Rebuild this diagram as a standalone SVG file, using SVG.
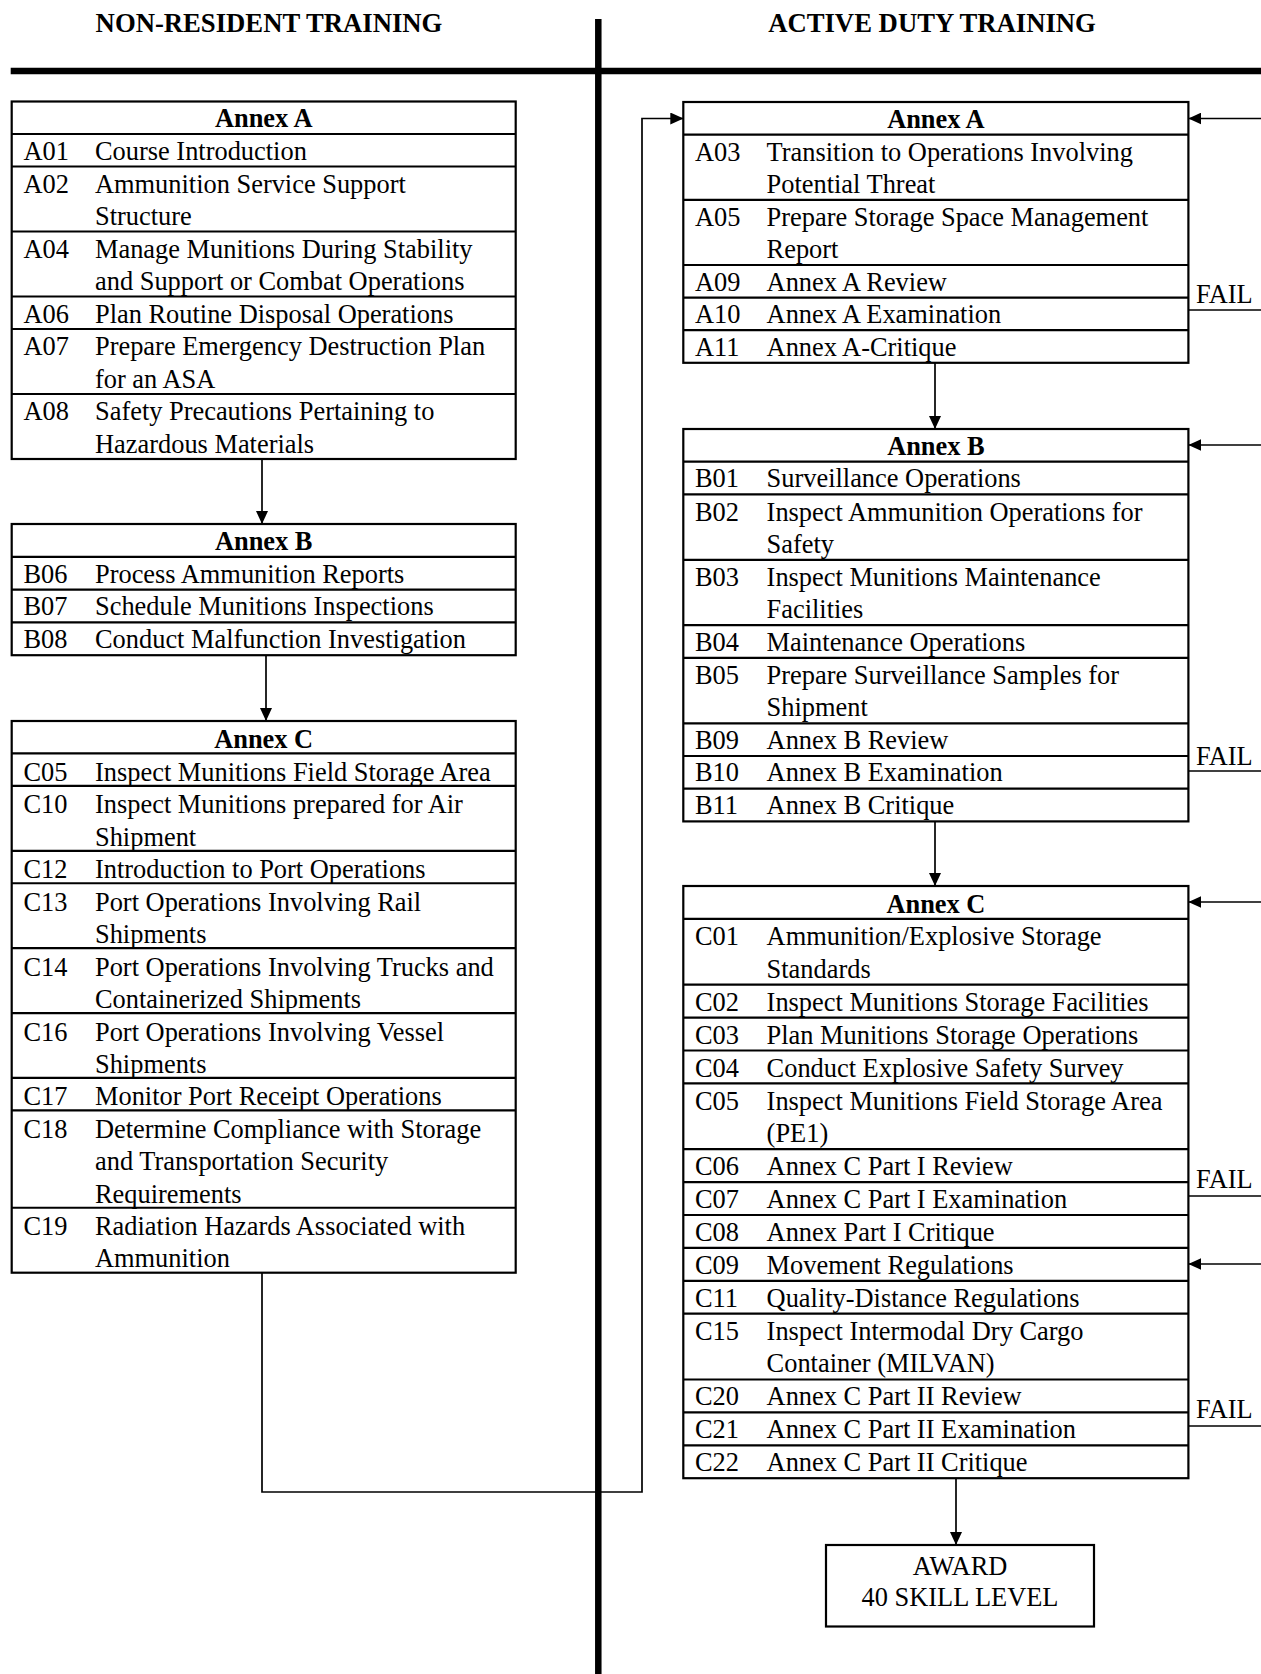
<svg xmlns="http://www.w3.org/2000/svg" width="1261" height="1674" viewBox="0 0 1261 1674">
<defs>
<style>
text{font-family:"Liberation Serif","Times New Roman",serif;font-size:26.4px;fill:#000}
.t{font-weight:bold;font-size:26.7px}
.h{font-weight:bold;text-anchor:middle}
.c{text-anchor:middle}
.box{fill:#fff;stroke:#000;stroke-width:2.2}
.sep{stroke:#000;stroke-width:2.2}
.con{fill:none;stroke:#000;stroke-width:1.7}
.arr{fill:none;stroke:#000;stroke-width:1.7;marker-end:url(#ah)}
.div{stroke:#000;stroke-width:6.5}
</style>
<marker id="ah" markerUnits="userSpaceOnUse" markerWidth="13" markerHeight="12" refX="13" refY="6" orient="auto">
<path d="M0,0 L13,6 L0,12 z" fill="#000"/>
</marker>
</defs>
<rect width="1261" height="1674" fill="#fff"/>

<g id="titles">
<text class="t" x="269" y="32" text-anchor="middle">NON-RESIDENT TRAINING</text>
<text class="t" x="932" y="32" text-anchor="middle">ACTIVE DUTY TRAINING</text>
</g>
<g id="dividers">
<line class="div" x1="10.7" y1="71" x2="1261" y2="71"/>
<line class="div" x1="598.3" y1="19" x2="598.3" y2="1674"/>
</g>

<g id="connectors">
<line class="arr" x1="262" y1="459" x2="262" y2="524"/>
<line class="arr" x1="266" y1="655.2" x2="266" y2="721"/>
<path class="arr" d="M262,1272.7 V1492 H642 V118.5 H683.3"/>
<line class="arr" x1="935" y1="362.8" x2="935" y2="429"/>
<line class="arr" x1="935" y1="821.4" x2="935" y2="886"/>
<line class="arr" x1="956" y1="1478.2" x2="956" y2="1545"/>
<line class="arr" x1="1261" y1="118.5" x2="1188.4" y2="118.5"/>
<line class="arr" x1="1261" y1="445" x2="1188.4" y2="445"/>
<line class="arr" x1="1261" y1="902" x2="1188.4" y2="902"/>
<line class="arr" x1="1261" y1="1264" x2="1188.4" y2="1264"/>
<line class="con" x1="1188.4" y1="310" x2="1261" y2="310"/>
<line class="con" x1="1188.4" y1="771" x2="1261" y2="771"/>
<line class="con" x1="1188.4" y1="1196" x2="1261" y2="1196"/>
<line class="con" x1="1188.4" y1="1426" x2="1261" y2="1426"/>
<text x="1196" y="303">FAIL</text>
<text x="1196" y="765">FAIL</text>
<text x="1196" y="1188">FAIL</text>
<text x="1196" y="1418">FAIL</text>
</g>

<g id="nr-annex-a">
<rect class="box" x="11.7" y="101.5" width="504" height="357.5"/>
<line class="sep" x1="11.7" y1="134" x2="515.7" y2="134"/>
<line class="sep" x1="11.7" y1="166.5" x2="515.7" y2="166.5"/>
<line class="sep" x1="11.7" y1="231.5" x2="515.7" y2="231.5"/>
<line class="sep" x1="11.7" y1="296.5" x2="515.7" y2="296.5"/>
<line class="sep" x1="11.7" y1="329" x2="515.7" y2="329"/>
<line class="sep" x1="11.7" y1="394" x2="515.7" y2="394"/>
<text class="h" x="263.7" y="126.5">Annex A</text>
<text x="23.5" y="159.5">A01</text><text x="95" y="159.5">Course Introduction</text>
<text x="23.5" y="192.5">A02</text><text x="95" y="192.5">Ammunition Service Support</text><text x="95" y="225">Structure</text>
<text x="23.5" y="257.5">A04</text><text x="95" y="257.5">Manage Munitions During Stability</text><text x="95" y="290">and Support or Combat Operations</text>
<text x="23.5" y="322.5">A06</text><text x="95" y="322.5">Plan Routine Disposal Operations</text>
<text x="23.5" y="355">A07</text><text x="95" y="355">Prepare Emergency Destruction Plan</text><text x="95" y="387.5">for an ASA</text>
<text x="23.5" y="420">A08</text><text x="95" y="420">Safety Precautions Pertaining to</text><text x="95" y="452.5">Hazardous Materials</text>
</g>

<g id="nr-annex-b">
<rect class="box" x="11.7" y="524" width="504" height="131.2"/>
<line class="sep" x1="11.7" y1="556.8" x2="515.7" y2="556.8"/>
<line class="sep" x1="11.7" y1="589.6" x2="515.7" y2="589.6"/>
<line class="sep" x1="11.7" y1="622.4" x2="515.7" y2="622.4"/>
<text class="h" x="263.7" y="549.5">Annex B</text>
<text x="23.5" y="582.5">B06</text><text x="95" y="582.5">Process Ammunition Reports</text>
<text x="23.5" y="615.3">B07</text><text x="95" y="615.3">Schedule Munitions Inspections</text>
<text x="23.5" y="648">B08</text><text x="95" y="648">Conduct Malfunction Investigation</text>
</g>

<g id="nr-annex-c">
<rect class="box" x="11.7" y="721" width="504" height="551.7"/>
<line class="sep" x1="11.7" y1="753.45" x2="515.7" y2="753.45"/>
<line class="sep" x1="11.7" y1="785.9" x2="515.7" y2="785.9"/>
<line class="sep" x1="11.7" y1="850.8" x2="515.7" y2="850.8"/>
<line class="sep" x1="11.7" y1="883.25" x2="515.7" y2="883.25"/>
<line class="sep" x1="11.7" y1="948.15" x2="515.7" y2="948.15"/>
<line class="sep" x1="11.7" y1="1013.05" x2="515.7" y2="1013.05"/>
<line class="sep" x1="11.7" y1="1077.95" x2="515.7" y2="1077.95"/>
<line class="sep" x1="11.7" y1="1110.4" x2="515.7" y2="1110.4"/>
<line class="sep" x1="11.7" y1="1207.75" x2="515.7" y2="1207.75"/>
<text class="h" x="263.7" y="747.5">Annex C</text>
<text x="23.5" y="780.5">C05</text><text x="95" y="780.5">Inspect Munitions Field Storage Area</text>
<text x="23.5" y="813">C10</text><text x="95" y="813">Inspect Munitions prepared for Air</text><text x="95" y="845.5">Shipment</text>
<text x="23.5" y="878">C12</text><text x="95" y="878">Introduction to Port Operations</text>
<text x="23.5" y="910.5">C13</text><text x="95" y="910.5">Port Operations Involving Rail</text><text x="95" y="943">Shipments</text>
<text x="23.5" y="975.5">C14</text><text x="95" y="975.5">Port Operations Involving Trucks and</text><text x="95" y="1008">Containerized Shipments</text>
<text x="23.5" y="1040.5">C16</text><text x="95" y="1040.5">Port Operations Involving Vessel</text><text x="95" y="1073">Shipments</text>
<text x="23.5" y="1105">C17</text><text x="95" y="1105">Monitor Port Receipt Operations</text>
<text x="23.5" y="1137.5">C18</text><text x="95" y="1137.5">Determine Compliance with Storage</text><text x="95" y="1170">and Transportation Security</text><text x="95" y="1202.5">Requirements</text>
<text x="23.5" y="1235">C19</text><text x="95" y="1235">Radiation Hazards Associated with</text><text x="95" y="1267">Ammunition</text>
</g>

<g id="ad-annex-a">
<rect class="box" x="683.3" y="102" width="505.1" height="260.8"/>
<line class="sep" x1="683.3" y1="134.6" x2="1188.4" y2="134.6"/>
<line class="sep" x1="683.3" y1="199.8" x2="1188.4" y2="199.8"/>
<line class="sep" x1="683.3" y1="265" x2="1188.4" y2="265"/>
<line class="sep" x1="683.3" y1="297.6" x2="1188.4" y2="297.6"/>
<line class="sep" x1="683.3" y1="330.2" x2="1188.4" y2="330.2"/>
<text class="h" x="935.9" y="127.5">Annex A</text>
<text x="695" y="160.5">A03</text><text x="766.6" y="160.5">Transition to Operations Involving</text><text x="766.6" y="193">Potential Threat</text>
<text x="695" y="225.5">A05</text><text x="766.6" y="225.5">Prepare Storage Space Management</text><text x="766.6" y="258">Report</text>
<text x="695" y="290.5">A09</text><text x="766.6" y="290.5">Annex A Review</text>
<text x="695" y="323">A10</text><text x="766.6" y="323">Annex A Examination</text>
<text x="695" y="355.5">A11</text><text x="766.6" y="355.5">Annex A-Critique</text>
</g>

<g id="ad-annex-b">
<rect class="box" x="683.3" y="429" width="505.1" height="392.4"/>
<line class="sep" x1="683.3" y1="461.7" x2="1188.4" y2="461.7"/>
<line class="sep" x1="683.3" y1="494.4" x2="1188.4" y2="494.4"/>
<line class="sep" x1="683.3" y1="559.8" x2="1188.4" y2="559.8"/>
<line class="sep" x1="683.3" y1="625.2" x2="1188.4" y2="625.2"/>
<line class="sep" x1="683.3" y1="657.9" x2="1188.4" y2="657.9"/>
<line class="sep" x1="683.3" y1="723.3" x2="1188.4" y2="723.3"/>
<line class="sep" x1="683.3" y1="756" x2="1188.4" y2="756"/>
<line class="sep" x1="683.3" y1="788.7" x2="1188.4" y2="788.7"/>
<text class="h" x="935.9" y="455">Annex B</text>
<text x="695" y="487">B01</text><text x="766.6" y="487">Surveillance Operations</text>
<text x="695" y="520.5">B02</text><text x="766.6" y="520.5">Inspect Ammunition Operations for</text><text x="766.6" y="552.5">Safety</text>
<text x="695" y="585.5">B03</text><text x="766.6" y="585.5">Inspect Munitions Maintenance</text><text x="766.6" y="618">Facilities</text>
<text x="695" y="650.5">B04</text><text x="766.6" y="650.5">Maintenance Operations</text>
<text x="695" y="683.5">B05</text><text x="766.6" y="683.5">Prepare Surveillance Samples for</text><text x="766.6" y="716">Shipment</text>
<text x="695" y="748.5">B09</text><text x="766.6" y="748.5">Annex B Review</text>
<text x="695" y="781.3">B10</text><text x="766.6" y="781.3">Annex B Examination</text>
<text x="695" y="814">B11</text><text x="766.6" y="814">Annex B Critique</text>
</g>

<g id="ad-annex-c">
<rect class="box" x="683.3" y="886" width="505.1" height="592.2"/>
<line class="sep" x1="683.3" y1="918.9" x2="1188.4" y2="918.9"/>
<line class="sep" x1="683.3" y1="984.7" x2="1188.4" y2="984.7"/>
<line class="sep" x1="683.3" y1="1017.6" x2="1188.4" y2="1017.6"/>
<line class="sep" x1="683.3" y1="1050.5" x2="1188.4" y2="1050.5"/>
<line class="sep" x1="683.3" y1="1083.4" x2="1188.4" y2="1083.4"/>
<line class="sep" x1="683.3" y1="1149.2" x2="1188.4" y2="1149.2"/>
<line class="sep" x1="683.3" y1="1182.1" x2="1188.4" y2="1182.1"/>
<line class="sep" x1="683.3" y1="1215" x2="1188.4" y2="1215"/>
<line class="sep" x1="683.3" y1="1247.9" x2="1188.4" y2="1247.9"/>
<line class="sep" x1="683.3" y1="1280.8" x2="1188.4" y2="1280.8"/>
<line class="sep" x1="683.3" y1="1313.7" x2="1188.4" y2="1313.7"/>
<line class="sep" x1="683.3" y1="1379.5" x2="1188.4" y2="1379.5"/>
<line class="sep" x1="683.3" y1="1412.4" x2="1188.4" y2="1412.4"/>
<line class="sep" x1="683.3" y1="1445.3" x2="1188.4" y2="1445.3"/>
<text class="h" x="935.9" y="912.5">Annex C</text>
<text x="695" y="945">C01</text><text x="766.6" y="945">Ammunition/Explosive Storage</text><text x="766.6" y="977.5">Standards</text>
<text x="695" y="1010.5">C02</text><text x="766.6" y="1010.5">Inspect Munitions Storage Facilities</text>
<text x="695" y="1043.5">C03</text><text x="766.6" y="1043.5">Plan Munitions Storage Operations</text>
<text x="695" y="1076.5">C04</text><text x="766.6" y="1076.5">Conduct Explosive Safety Survey</text>
<text x="695" y="1109.5">C05</text><text x="766.6" y="1109.5">Inspect Munitions Field Storage Area</text><text x="766.6" y="1142">(PE1)</text>
<text x="695" y="1175">C06</text><text x="766.6" y="1175">Annex C Part I Review</text>
<text x="695" y="1208">C07</text><text x="766.6" y="1208">Annex C Part I Examination</text>
<text x="695" y="1241">C08</text><text x="766.6" y="1241">Annex Part I Critique</text>
<text x="695" y="1274">C09</text><text x="766.6" y="1274">Movement Regulations</text>
<text x="695" y="1307">C11</text><text x="766.6" y="1307">Quality-Distance Regulations</text>
<text x="695" y="1340">C15</text><text x="766.6" y="1340">Inspect Intermodal Dry Cargo</text><text x="766.6" y="1372">Container (MILVAN)</text>
<text x="695" y="1405">C20</text><text x="766.6" y="1405">Annex C Part II Review</text>
<text x="695" y="1438">C21</text><text x="766.6" y="1438">Annex C Part II Examination</text>
<text x="695" y="1471">C22</text><text x="766.6" y="1471">Annex C Part II Critique</text>
</g>

<g id="award">
<rect class="box" x="826" y="1545" width="268" height="81.5"/>
<text class="c" x="960" y="1574.5">AWARD</text>
<text class="c" x="960" y="1605.5">40 SKILL LEVEL</text>
</g>
</svg>
